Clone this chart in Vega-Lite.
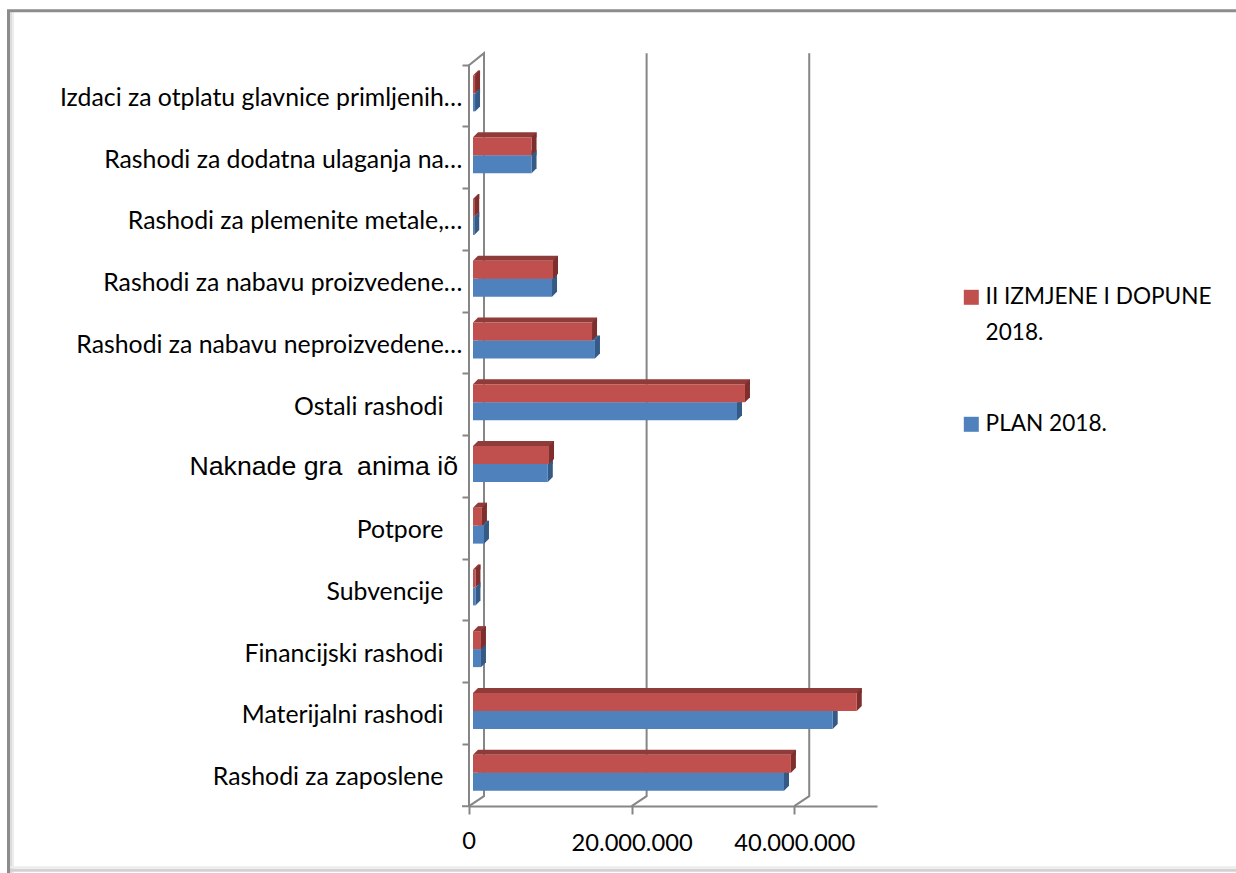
{"$schema":"https://vega.github.io/schema/vega-lite/v6.json","width":408,"height":741,"autosize":{"type":"none"},"padding":{"left":469,"top":65,"right":359,"bottom":67},"background":"white","view":{"stroke":null},"config":{"font":"Lato","style":{"guide-label":{"lineHeight":36}}},
"data":{"values":[
{"category":"Rashodi za zaposlene\u00a0\u00a0\u00a0\u200b","series":"PLAN 2018.","value":38250000},{"category":"Rashodi za zaposlene\u00a0\u00a0\u00a0\u200b","series":"II IZMJENE I DOPUNE 2018.","value":39100000},
{"category":"Materijalni rashodi\u00a0\u00a0\u00a0\u200b","series":"PLAN 2018.","value":44240000},{"category":"Materijalni rashodi\u00a0\u00a0\u00a0\u200b","series":"II IZMJENE I DOPUNE 2018.","value":47200000},
{"category":"Financijski rashodi\u00a0\u00a0\u00a0\u200b","series":"PLAN 2018.","value":980000},{"category":"Financijski rashodi\u00a0\u00a0\u00a0\u200b","series":"II IZMJENE I DOPUNE 2018.","value":980000},
{"category":"Subvencije\u00a0\u00a0\u00a0\u200b","series":"PLAN 2018.","value":300000},{"category":"Subvencije\u00a0\u00a0\u00a0\u200b","series":"II IZMJENE I DOPUNE 2018.","value":300000},
{"category":"Potpore\u00a0\u00a0\u00a0\u200b","series":"PLAN 2018.","value":1350000},{"category":"Potpore\u00a0\u00a0\u00a0\u200b","series":"II IZMJENE I DOPUNE 2018.","value":1100000},
{"category":"Naknade gra\u00a0\u00a0anima iõ","series":"PLAN 2018.","value":9200000},{"category":"Naknade gra\u00a0\u00a0anima iõ","series":"II IZMJENE I DOPUNE 2018.","value":9350000},
{"category":"Ostali rashodi\u00a0\u00a0\u00a0\u200b","series":"PLAN 2018.","value":32470000},{"category":"Ostali rashodi\u00a0\u00a0\u00a0\u200b","series":"II IZMJENE I DOPUNE 2018.","value":33450000},
{"category":"Rashodi za nabavu neproizvedene…","series":"PLAN 2018.","value":15000000},{"category":"Rashodi za nabavu neproizvedene…","series":"II IZMJENE I DOPUNE 2018.","value":14640000},
{"category":"Rashodi za nabavu proizvedene…","series":"PLAN 2018.","value":9720000},{"category":"Rashodi za nabavu proizvedene…","series":"II IZMJENE I DOPUNE 2018.","value":9840000},
{"category":"Rashodi za plemenite metale,…","series":"PLAN 2018.","value":150000},{"category":"Rashodi za plemenite metale,…","series":"II IZMJENE I DOPUNE 2018.","value":150000},
{"category":"Rashodi za dodatna ulaganja na…","series":"PLAN 2018.","value":7200000},{"category":"Rashodi za dodatna ulaganja na…","series":"II IZMJENE I DOPUNE 2018.","value":7200000},
{"category":"Izdaci za otplatu glavnice primljenih…","series":"PLAN 2018.","value":250000},{"category":"Izdaci za otplatu glavnice primljenih…","series":"II IZMJENE I DOPUNE 2018.","value":250000}
]},
"encoding":{
"y":{"field":"category","type":"nominal","title":null,"sort":null,
"scale":{"domain":["Izdaci za otplatu glavnice primljenih…","Rashodi za dodatna ulaganja na…","Rashodi za plemenite metale,…","Rashodi za nabavu proizvedene…","Rashodi za nabavu neproizvedene…","Ostali rashodi\u00a0\u00a0\u00a0\u200b","Naknade gra\u00a0\u00a0anima iõ","Potpore\u00a0\u00a0\u00a0\u200b","Subvencije\u00a0\u00a0\u00a0\u200b","Financijski rashodi\u00a0\u00a0\u00a0\u200b","Materijalni rashodi\u00a0\u00a0\u00a0\u200b","Rashodi za zaposlene\u00a0\u00a0\u00a0\u200b"],"paddingInner":0,"paddingOuter":0},
"axis":{"orient":"left","bandPosition":0,"domain":false,"tickColor":"#868686","tickWidth":2,"tickSize":7,"labelPadding":0.1,"labelLimit":600,"labelOffset":3,"labelFontSize":24.8,"labelFont":"Lato","labelColor":"#000000","labelExpr":"indexof(datum.label,'Naknade')==0?'':datum.label"}},
"x":{"field":"value","type":"quantitative","title":null,
"scale":{"domain":[0,50180000],"nice":false,"zero":true},
"axis":{"orient":"bottom","values":[0,20000000,40000000],"labelExpr":"datum.value==0?'':datum.value==20000000?'20.000.000':'40.000.000'","domainColor":"#868686","domainWidth":2,"tickColor":"#868686","tickWidth":2,"tickSize":8,"labelPadding":17,"labelFontSize":23.7,"labelFont":"Lato","labelColor":"#000000","grid":false}}
},
"layer":[
{"data":{"values":[{"category":"Rashodi za zaposlene\u00a0\u00a0\u00a0\u200b","value":0}]},"mark":{"type":"point","shape":"M-458,-763 L-458,98","size":4,"filled":false,"stroke":"#dcdcdc","strokeWidth":2,"opacity":1}},
{"data":{"values":[{"category":"Rashodi za zaposlene\u00a0\u00a0\u00a0\u200b","value":0}]},"mark":{"type":"point","shape":"M-456,-763 L-456,98","size":4,"filled":false,"stroke":"#ededed","strokeWidth":2,"opacity":1}},
{"data":{"values":[{"category":"Rashodi za zaposlene\u00a0\u00a0\u00a0\u200b","value":0}]},"mark":{"type":"point","shape":"M-459,92 L767,92","size":4,"filled":false,"stroke":"#ececec","strokeWidth":2,"opacity":1}},
{"data":{"values":[{"category":"Rashodi za zaposlene\u00a0\u00a0\u00a0\u200b","value":0}]},"mark":{"type":"point","shape":"M-459,95 L767,95","size":4,"filled":false,"stroke":"#d2d2d2","strokeWidth":3,"opacity":1}},
{"data":{"values":[{"category":"Rashodi za zaposlene\u00a0\u00a0\u00a0\u200b","value":0}]},"mark":{"type":"point","shape":"M-460.5,98 L-460.5,-764.5 L767,-764.5","size":4,"filled":false,"stroke":"#8c8c8c","strokeWidth":3,"opacity":1}},
{"data":{"values":[{"category":"Rashodi za zaposlene\u00a0\u00a0\u00a0\u200b","value":0}]},"mark":{"type":"point","shape":"M-7,31 L0,31 L0,-710 L15,-722 L15,21 L0,31","size":4,"filled":false,"stroke":"#868686","strokeWidth":2,"opacity":1}},
{"data":{"values":[{"category":"Rashodi za zaposlene\u00a0\u00a0\u00a0\u200b","value":20000000},{"category":"Rashodi za zaposlene\u00a0\u00a0\u00a0\u200b","value":40000000}]},"mark":{"type":"point","shape":"M0,31 L15,21 L15,-722","size":4,"filled":false,"stroke":"#868686","strokeWidth":2,"opacity":1}},
{"data":{"values":[{"category":"Naknade gra\u00a0\u00a0anima iõ","value":0}]},"mark":{"type":"text","align":"right","baseline":"middle","font":"Liberation Sans","fontSize":26.7,"color":"#000000","dx":-11,"dy":1},"encoding":{"text":{"field":"category","type":"nominal"}}},
{"data":{"values":[{"category":"Rashodi za zaposlene\u00a0\u00a0\u00a0\u200b","value":0}]},"mark":{"type":"text","align":"center","baseline":"middle","font":"Lato","fontSize":23.7,"color":"#000000","dy":67},"encoding":{"text":{"field":"value","type":"quantitative"}}},
{"transform":[{"filter":"datum.series=='PLAN 2018.'"}],"mark":{"type":"bar","height":5,"yOffset":-5,"xOffset":9,"x2Offset":9,"color":"#3f6797"}},
{"transform":[{"filter":"datum.series=='PLAN 2018.'"}],"mark":{"type":"point","shape":"M0,-9 L5,-14 L5,4 L0,9 Z","size":4,"filled":true,"color":"#345a85","opacity":1,"strokeWidth":0,"xOffset":4,"yOffset":6.5}},
{"transform":[{"filter":"datum.series=='PLAN 2018.'"}],"mark":{"type":"bar","height":18,"yOffset":6.5,"xOffset":4,"x2Offset":4},"encoding":{"color":{"field":"series","type":"nominal","title":null,"scale":{"domain":["II IZMJENE I DOPUNE 2018.","PLAN 2018."],"range":["#c0504d","#4f81bd"]},"legend":{"orient":"none","legendX":491,"legendY":221,"symbolType":"square","symbolSize":225,"symbolStrokeWidth":0,"labelFont":"Lato","labelFontSize":22.6,"labelColor":"#000000","labelLimit":600,"labelOffset":3,"rowPadding":68,"padding":0,"labelExpr":"indexof(datum.label,'II')==0?['II IZMJENE I DOPUNE','2018.']:datum.label","labelBaseline":"middle"}}}},
{"transform":[{"filter":"datum.series!='PLAN 2018.'"}],"mark":{"type":"bar","height":5,"yOffset":-23,"xOffset":9,"x2Offset":9,"color":"#8f3b39"}},
{"data":{"values":[{"category":"Rashodi za zaposlene\u00a0\u00a0\u00a0\u200b","value":0},{"category":"Materijalni rashodi\u00a0\u00a0\u00a0\u200b","value":0},{"category":"Financijski rashodi\u00a0\u00a0\u00a0\u200b","value":0},{"category":"Subvencije\u00a0\u00a0\u00a0\u200b","value":0},{"category":"Potpore\u00a0\u00a0\u00a0\u200b","value":0},{"category":"Naknade gra\u00a0\u00a0anima iõ","value":0},{"category":"Ostali rashodi\u00a0\u00a0\u00a0\u200b","value":0},{"category":"Rashodi za nabavu neproizvedene…","value":0},{"category":"Rashodi za nabavu proizvedene…","value":0},{"category":"Rashodi za plemenite metale,…","value":0},{"category":"Rashodi za dodatna ulaganja na…","value":0},{"category":"Izdaci za otplatu glavnice primljenih…","value":0}]},"mark":{"type":"point","shape":"M0,-9 L5,-14 L5,-9 Z","size":4,"filled":true,"color":"#8f3b39","opacity":1,"strokeWidth":0,"xOffset":4,"yOffset":-11.5}},
{"transform":[{"filter":"datum.series!='PLAN 2018.'"}],"mark":{"type":"point","shape":"M0,-9 L5,-14 L5,4 L0,9 Z","size":4,"filled":true,"color":"#7e2f2d","opacity":1,"strokeWidth":0,"xOffset":4,"yOffset":-11.5}},
{"transform":[{"filter":"datum.series!='PLAN 2018.'"}],"mark":{"type":"bar","height":18,"yOffset":-11.5,"xOffset":4,"x2Offset":4},"encoding":{"color":{"field":"series","type":"nominal","title":null,"scale":{"domain":["II IZMJENE I DOPUNE 2018.","PLAN 2018."],"range":["#c0504d","#4f81bd"]}}}}
]}
